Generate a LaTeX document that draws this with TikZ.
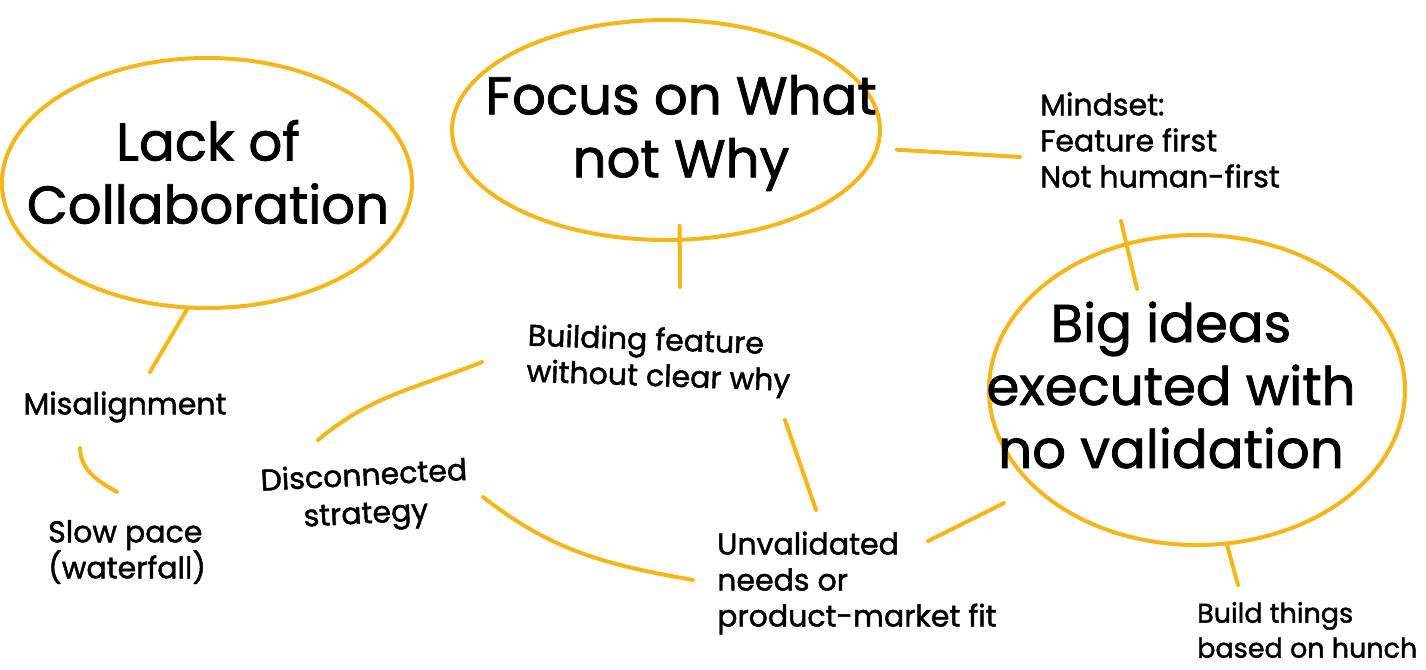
\documentclass[tikz,border=0pt]{standalone}
\usepackage{fontspec}
\setmainfont{Poppins}[RawFeature={embolden=1.5}]
\usetikzlibrary{shapes.geometric, calc}
\definecolor{markeryellow}{HTML}{F4B619}
\colorlet{colStroke}{markeryellow}
\colorlet{colText}{black}
\tikzset{
  bubbleBase/.style={
    ellipse, draw=colStroke, line width=4pt, inner sep=0pt
  },
  textBig/.style={align=center, text=colText, inner sep=0pt,
    font=\fontsize{53}{63}\selectfont},
  textNote/.style={align=left, text=colText, inner sep=0pt,
    font=\fontsize{30}{36}\selectfont},
  link/.style={colStroke, line width=4pt, line cap=round},
}

\begin{document}
\begin{tikzpicture}[x=1pt, y=-1pt]
    \useasboundingbox (0,0) rectangle (1426,669);

    \node[bubbleBase, minimum width=410pt, minimum height=250pt] (lackRing) at (207,183) {};
    \node[bubbleBase, minimum width=428pt, minimum height=220pt] (focusRing) at (666,130) {};
    \node[bubbleBase, minimum width=416pt, minimum height=310pt] (bigRing) at (1197,390) {};

    \node[textBig] (lack) at (208,172) {Lack of\\Collaboration};
    \node[textBig] (focus) at (681,133) {Focus on What\\not Why};
    \node[textBig] (bigIdeas) at (1171,385) {Big ideas\\executed with\\no validation};

    \node[textNote, align=center] (misalign) at (125,407) {Misalignment};
    \node[textNote, anchor=west] (slowPace) at (48,552) {Slow pace\\(waterfall)};
    \node[textNote, align=center, rotate=3, font=\fontsize{30}{38}\selectfont] (disconnect) at (365,497) {Disconnected\\strategy};
    \node[textNote, anchor=west, rotate=-2] (building) at (527,356) {Building feature\\without clear why};
    \node[textNote, anchor=west] (mindset) at (1040,140) {Mindset:\\Feature first\\Not human-first};
    \node[textNote, anchor=west] (unvalidated) at (717,583) {Unvalidated\\needs or\\product-market fit};
    \node[textNote, anchor=west, font=\fontsize{27}{35}\selectfont] (hunch) at (1197,630) {Build things\\based on hunch};

    \draw[link] (lackRing.-99) -- ([shift={(25,-35)}]misalign.center);
    \draw[link] ([shift={(-45,41)}]misalign.center) to[out=-88, in=150] ([shift={(69,-60)}]slowPace.west);
    \draw[link, shorten <=-16pt] (focusRing.-83) -- ([shift={(153,-69)}]building.west);
    \draw[link, shorten <=18pt] (focusRing.-5) -- ([shift={(-20,17)}]mindset.west);
    \draw[link] ([shift={(81,81)}]mindset.west) -- ([shift={(-60,-101)}]bigRing.center);
    \draw[link] ([shift={(-45,6)}]building.west) to[out=-158, in=40] ([shift={(-47,-57)}]disconnect.center);
    \draw[link] ([shift={(258,64)}]building.west) -- ([shift={(99,-73)}]unvalidated.west);
    \draw[link] ([shift={(118,0)}]disconnect.center) to[out=-38, in=170] ([shift={(-24,-3)}]unvalidated.west);
    \draw[link, shorten >=33pt] ([shift={(211,-42)}]unvalidated.west) -- (bigRing.-149);
    \draw[link] (bigRing.-79) -- ([shift={(41,-45)}]hunch.west);
\end{tikzpicture}
\end{document}
